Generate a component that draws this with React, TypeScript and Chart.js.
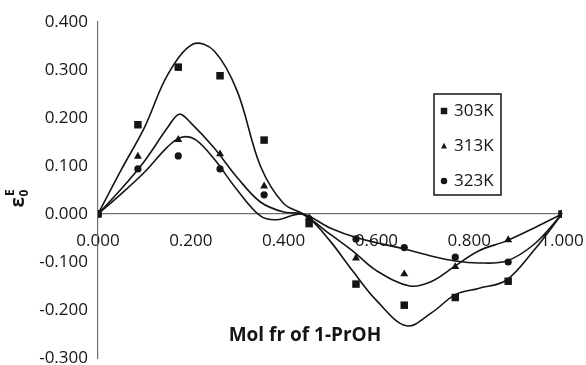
import React, { useEffect, useRef } from "react";
import { Chart, registerables } from "chart.js";

Chart.register(...registerables);

// Measured mole fractions of 1-propanol
const moleFraction = [0, 0.086, 0.173, 0.263, 0.358, 0.455, 0.556, 0.66, 0.77, 0.884, 1.0];

// Excess static permittivity at each temperature
const eps303 = [0, 0.186, 0.306, 0.288, 0.154, -0.02, -0.146, -0.19, -0.174, -0.14, 0];
const eps313 = [0, 0.12, 0.155, 0.125, 0.058, -0.008, -0.092, -0.125, -0.11, -0.054, 0];
const eps323 = [0, 0.094, 0.121, 0.094, 0.04, -0.01, -0.052, -0.07, -0.09, -0.1, 0];

// Smoothed fit curves (sampled along each fitted line)
const fit303X = [0, 0.05, 0.1, 0.15, 0.205, 0.25, 0.3, 0.35, 0.4, 0.45, 0.5, 0.55, 0.6, 0.665, 0.72, 0.77, 0.82, 0.88, 0.94, 1];
const fit303Y = [0, 0.092, 0.18, 0.29, 0.354, 0.34, 0.256, 0.1, 0.022, -0.004, -0.056, -0.12, -0.18, -0.233, -0.205, -0.168, -0.155, -0.138, -0.075, 0];
const fit313X = [0, 0.05, 0.1, 0.15, 0.175, 0.2, 0.25, 0.3, 0.35, 0.4, 0.44, 0.5, 0.55, 0.6, 0.672, 0.72, 0.77, 0.82, 0.88, 0.94, 1];
const fit313Y = [0, 0.052, 0.11, 0.18, 0.208, 0.19, 0.138, 0.076, 0.025, 0.004, 0, -0.042, -0.078, -0.118, -0.15, -0.14, -0.108, -0.077, -0.056, -0.029, 0];
const fit323X = [0, 0.05, 0.1, 0.15, 0.18, 0.21, 0.25, 0.3, 0.35, 0.385, 0.44, 0.5, 0.56, 0.66, 0.72, 0.77, 0.82, 0.88, 0.94, 1];
const fit323Y = [0, 0.042, 0.087, 0.14, 0.16, 0.155, 0.115, 0.05, -0.004, -0.012, 0, -0.029, -0.05, -0.073, -0.088, -0.098, -0.102, -0.098, -0.063, 0];

const seriesLabels = ["303K", "313K", "323K"];
const seriesMarkers = ["rect", "triangle", "circle"];

const xAxisTitle = "Mol fr of 1-PrOH";

const INK = "#151515";
const AXIS = "#6f6f6f";
const FONT = "'Open Sans', 'DejaVu Sans', sans-serif";

const toPoints = (xs: number[], ys: number[]) => xs.map((x, i) => ({ x, y: ys[i] }));

const fmt = (v: number | string) => {
  const n = Number(v);
  return (Math.abs(n) < 1e-9 ? 0 : n).toFixed(3);
};

function drawMarker(ctx: CanvasRenderingContext2D, kind: string, x: number, y: number, s: number) {
  ctx.beginPath();
  if (kind === "rect") {
    ctx.rect(x - s / 2, y - s / 2, s, s);
  } else if (kind === "triangle") {
    ctx.moveTo(x, y - s * 0.55);
    ctx.lineTo(x + s * 0.5, y + s * 0.4);
    ctx.lineTo(x - s * 0.5, y + s * 0.4);
    ctx.closePath();
  } else {
    ctx.arc(x, y, s / 2, 0, Math.PI * 2);
  }
  ctx.fill();
}

const decorations = {
  id: "decorations",
  afterDraw(chart: any) {
    const { ctx, chartArea, scales } = chart;
    const xs = scales.x;
    const ys = scales.y;
    ctx.save();
    ctx.fillStyle = INK;
    ctx.strokeStyle = INK;

    // x-axis title inside the plot, under the negative lobe
    ctx.font = `bold 19px ${FONT}`;
    ctx.textAlign = "center";
    ctx.textBaseline = "middle";
    ctx.fillText(xAxisTitle, xs.getPixelForValue(0.446), ys.getPixelForValue(-0.253));

    // y-axis title: epsilon with subscript 0 and superscript E, rotated
    ctx.save();
    ctx.translate(chartArea.left - 79, ys.getPixelForValue(0.035));
    ctx.rotate(-Math.PI / 2);
    ctx.textAlign = "left";
    ctx.textBaseline = "alphabetic";
    ctx.font = `bold 19px ${FONT}`;
    const w = ctx.measureText("ε").width;
    const x0 = -w / 2 - 5;
    ctx.fillText("ε", x0, 5);
    ctx.font = `bold 12px ${FONT}`;
    ctx.fillText("0", x0 + w + 0.5, 9);
    ctx.fillText("E", x0 + w + 1, -5);
    ctx.restore();

    // legend box
    const lx = chartArea.left + 336;
    const ly = chartArea.top + 72;
    const lw = 67;
    const lh = 101;
    ctx.lineWidth = 1.5;
    ctx.strokeRect(lx, ly, lw, lh);
    ctx.font = `17px ${FONT}`;
    ctx.textAlign = "left";
    ctx.textBaseline = "middle";
    seriesLabels.forEach((label, i) => {
      const cy = ly + 17 + i * 35;
      drawMarker(ctx, seriesMarkers[i], lx + 10, cy, i === 1 ? 6 : 6.5);
      ctx.fillText(label, lx + 20, cy);
    });
    ctx.restore();
  },
};

export default function App() {
  const canvasRef = useRef<HTMLCanvasElement | null>(null);

  useEffect(() => {
    if (!canvasRef.current) return;
    const pointSets = [eps303, eps313, eps323];
    const fits = [
      toPoints(fit303X, fit303Y),
      toPoints(fit313X, fit313Y),
      toPoints(fit323X, fit323Y),
    ];
    const radii = [5.3, 4.6, 3.6];

    const scatterSets = pointSets.map((ys, i) => ({
      label: seriesLabels[i],
      data: toPoints(moleFraction, ys),
      pointStyle: seriesMarkers[i],
      pointRadius: radii[i],
      pointBackgroundColor: INK,
      pointBorderColor: INK,
      pointBorderWidth: 0,
      showLine: false,
      order: 0,
    }));
    const fitSets = fits.map((data, i) => ({
      label: `${seriesLabels[i]} fit`,
      data,
      showLine: true,
      pointRadius: 0,
      borderColor: INK,
      borderWidth: 1.6,
      fill: false,
      tension: 0.35,
      order: 1,
    }));

    const chart = new Chart(canvasRef.current, {
      type: "scatter",
      data: { datasets: [...scatterSets, ...fitSets] as any },
      options: {
        animation: false,
        responsive: false,
        devicePixelRatio: 1,
        layout: { padding: { top: 22, right: 24, bottom: 7, left: 0 } },
        plugins: {
          legend: { display: false },
          tooltip: { enabled: false },
        },
        scales: {
          x: {
            type: "linear",
            min: 0,
            max: 1,
            position: { y: 0 } as any,
            grid: { display: false, drawTicks: false },
            border: { display: true, color: AXIS, width: 1.2 },
            ticks: {
              stepSize: 0.2,
              padding: 17,
              color: INK,
              font: { family: FONT, size: 17 },
              maxRotation: 0,
              callback: (v: any) => fmt(v),
            },
            afterFit: (scale: any) => {
              scale.height = 0;
              scale.paddingLeft = 0;
              scale.paddingRight = 0;
            },
          },
          y: {
            type: "linear",
            min: -0.3,
            max: 0.4,
            grid: { display: false, drawTicks: false },
            border: { display: true, color: AXIS, width: 1.2 },
            ticks: {
              stepSize: 0.1,
              padding: 10,
              color: INK,
              font: { family: FONT, size: 17 },
              callback: (v: any) => fmt(v),
            },
            afterFit: (scale: any) => {
              scale.width = 98;
              scale.paddingTop = 0;
              scale.paddingBottom = 0;
            },
          },
        },
      },
      plugins: [decorations],
    });
    return () => chart.destroy();
  }, []);

  return (
    <div style={{ position: "fixed", left: 0, top: 0, width: 586, height: 365, background: "#fff" }}>
      <canvas ref={canvasRef} width={586} height={365} style={{ display: "block" }} />
    </div>
  );
}
